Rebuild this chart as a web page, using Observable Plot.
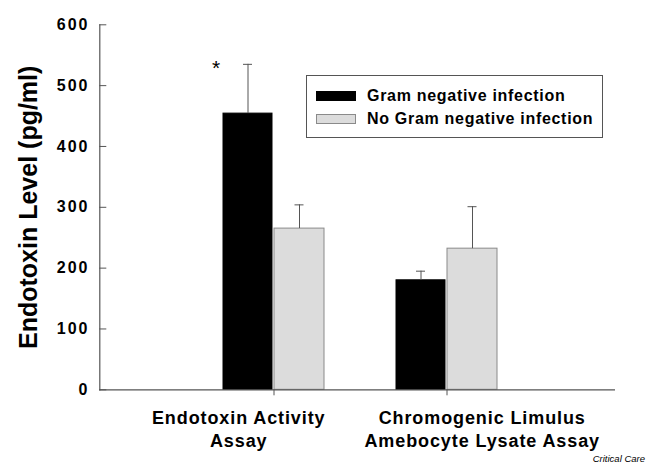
<!DOCTYPE html>
<html>
<head>
<meta charset="utf-8">
<script src="https://cdn.jsdelivr.net/npm/d3@7"></script>
<script src="https://cdn.jsdelivr.net/npm/@observablehq/plot@0.6"></script>
<style>
  body { margin: 0; background: #fff; font-family: "Liberation Sans", Arial, sans-serif; }
  #wrap { position: relative; width: 653px; height: 465px; overflow: hidden; }
  #wrap svg { position: absolute; left: 0; top: 0; }
  #wrap svg g[aria-label="y-axis tick label"] text { letter-spacing: 2px; }
  #wrap svg g[aria-label="x-axis tick label"] text { letter-spacing: 0.9px; }
  .legend { position: absolute; left: 306px; top: 75px; width: 297px; height: 63px; border: 1px solid #555; box-sizing: border-box; background: #fff; }
  .legend .sw { position: absolute; left: 9px; width: 40px; height: 10px; box-sizing: border-box; }
  .legend .lbl { position: absolute; left: 60px; font-size: 16px; line-height: 16px; font-weight: bold; letter-spacing: 0.7px; white-space: nowrap; color: #000; }
  .caption { position: absolute; right: 8px; top: 454px; font-size: 9.5px; line-height: 10px; font-style: italic; color: #000; }
</style>
</head>
<body>
<div id="wrap"></div>
<script>
// ---- data ----
const assays = ["Endotoxin Activity\nAssay", "Chromogenic Limulus\nAmebocyte Lysate Assay"];
const groups = ["Gram negative infection", "No Gram negative infection"];
const gramMeans = [454, 180];
const gramErrors = [81, 15];
const noGramMeans = [265, 232];
const noGramErrors = [39, 69];
const significance = ["*", ""];
const yTicks = [0, 100, 200, 300, 400, 500, 600];
const fills = ["#000000", "#dcdcdc"];
const strokes = ["#000000", "#8a8a8a"];

const rows = assays.flatMap((a, i) => [
  {assay: a, group: groups[0], value: gramMeans[i], err: gramErrors[i], sig: significance[i]},
  {assay: a, group: groups[1], value: noGramMeans[i], err: noGramErrors[i], sig: ""}
]);

const font = '"Liberation Sans", Arial, sans-serif';

// each assay band (102px wide) is split into two side-by-side bars
const barW = [50, 51];
const bandW = 102;
const insets = [
  {insetLeft: 0, insetRight: bandW - barW[0]},
  {insetLeft: bandW - barW[1], insetRight: 0}
];
const centreDx = [barW[0] / 2 - bandW / 2, bandW / 2 - barW[1] / 2];
const capHalf = 5;

const chart = Plot.plot({
  width: 653,
  height: 465,
  marginLeft: 99.3,
  marginRight: 38,
  marginTop: 24.3,
  marginBottom: 75.7,
  style: {fontFamily: font, background: "transparent", color: "#000"},
  x: {domain: assays, paddingInner: 0.414, paddingOuter: 0.689, align: 0.513, axis: null, label: null},
  y: {domain: [0, 600], axis: null},
  marks: [
    ...groups.map((g, k) => Plot.barY(rows.filter(d => d.group === g), {
      x: "assay", y: "value", fill: fills[k], stroke: strokes[k], strokeWidth: 1, ...insets[k]
    })),
    ...groups.map((g, k) => Plot.ruleX(rows.filter(d => d.group === g), {
      x: "assay", y1: "value", y2: d => d.value + d.err, dx: centreDx[k], stroke: "#555", strokeWidth: 1
    })),
    ...groups.map((g, k) => Plot.tickY(rows.filter(d => d.group === g), {
      x: "assay", y: d => d.value + d.err, stroke: "#555", strokeWidth: 1,
      insetLeft: bandW / 2 + centreDx[k] - capHalf, insetRight: bandW / 2 - centreDx[k] - capHalf
    })),
    Plot.text(rows.filter(d => d.sig), {x: "assay", y: d => d.value + d.err, text: "sig", dx: centreDx[0] - 32, dy: 4, fontSize: 21, fill: "#000"}),
    // axis lines
    Plot.ruleY([0], {stroke: "#555", strokeWidth: 1.2}),
    Plot.frame({anchor: "left", stroke: "#555", strokeWidth: 1.2}),
    // y axis
    Plot.axisY(yTicks, {anchor: "left", tickSize: -7, tickPadding: 17.3, stroke: "#555", fill: "#000",
      fontSize: 16, fontWeight: "bold", label: null}),
    Plot.text(["Endotoxin Level (pg/ml)"], {frameAnchor: "left", textAnchor: "middle", rotate: -90, dx: -71, fontSize: 25, fontWeight: "bold", fill: "#000"}),
    // x axis ticks at the band centres
    Plot.axisX({anchor: "bottom", tickSize: 6, stroke: "#555", tickFormat: () => "", label: null}),
    // x axis labels (offset as in the original)
    Plot.axisX([assays[0]], {anchor: "bottom", tickSize: 0, tickPadding: 18.5, dx: -35.3, fontSize: 18, fontWeight: "bold", lineHeight: 1.26, fill: "#000", label: null}),
    Plot.axisX([assays[1]], {anchor: "bottom", tickSize: 0, tickPadding: 18.5, dx: 35.2, fontSize: 18, fontWeight: "bold", lineHeight: 1.26, fill: "#000", label: null})
  ]
});

const wrap = document.getElementById("wrap");
wrap.appendChild(chart);

// legend (inside the plot area, top right)
const legend = document.createElement("div");
legend.className = "legend";
groups.forEach((g, k) => {
  const sw = document.createElement("div");
  sw.className = "sw";
  sw.style.top = (15 + k * 22.5) + "px";
  sw.style.background = fills[k];
  sw.style.border = "1px solid " + strokes[k];
  legend.appendChild(sw);
  const lbl = document.createElement("div");
  lbl.className = "lbl";
  lbl.style.top = (12.2 + k * 22.6) + "px";
  lbl.textContent = g;
  legend.appendChild(lbl);
});
wrap.appendChild(legend);

const cap = document.createElement("div");
cap.className = "caption";
cap.textContent = "Critical Care";
wrap.appendChild(cap);
</script>
</body>
</html>
